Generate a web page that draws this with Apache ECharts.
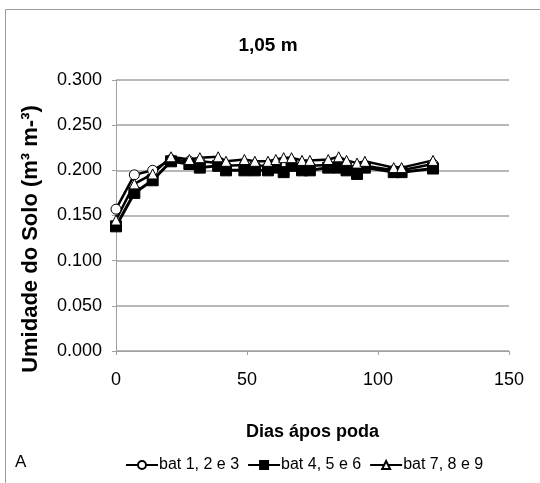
<!DOCTYPE html>
<html>
<head>
<meta charset="utf-8">
<script src="https://cdn.jsdelivr.net/npm/echarts@6/dist/echarts.min.js"></script>
<style>
html,body{margin:0;padding:0;background:#fff;}
#chart{width:540px;height:483px;}
</style>
</head>
<body>
<div id="chart"></div>
<script>
// Days after pruning for each sampling date
var dias = [0, 7, 14, 21, 28, 32, 39, 42, 49, 53, 58, 61, 64, 67, 71, 74, 81, 85, 88, 92, 95, 106, 109, 121];

// Soil moisture (m3 m-3) at 1,05 m depth
var bat123 = [0.157, 0.195, 0.200, 0.212, 0.210, 0.210, 0.208, 0.205, 0.206, 0.206, 0.204, 0.207, 0.206, 0.208, 0.205, 0.205, 0.206, 0.208, 0.206, 0.202, 0.205, 0.200, 0.200, 0.207];
var bat456 = [0.138, 0.175, 0.189, 0.210, 0.207, 0.203, 0.205, 0.200, 0.200, 0.200, 0.200, 0.203, 0.198, 0.205, 0.200, 0.200, 0.203, 0.203, 0.200, 0.196, 0.203, 0.198, 0.198, 0.202];
var bat789 = [0.145, 0.185, 0.196, 0.215, 0.212, 0.214, 0.215, 0.210, 0.212, 0.210, 0.210, 0.212, 0.214, 0.214, 0.211, 0.211, 0.212, 0.215, 0.211, 0.208, 0.210, 0.203, 0.203, 0.211];

var seriesNames = ['bat 1, 2 e 3', 'bat 4, 5 e 6', 'bat 7, 8 e 9'];
var titulo = '1,05 m';
var tituloX = 'Dias ápos poda';
var tituloY = 'Umidade do Solo (m³ m-³)';
var painel = 'A';

function pares(v) {
  return dias.map(function (d, i) { return [d, v[i]]; });
}

var sans = "'Liberation Sans', Arial, sans-serif";

var chart = echarts.init(document.getElementById('chart'), null, {renderer: 'canvas'});
chart.setOption({
  backgroundColor: '#fff',
  animation: false,
  title: {
    text: titulo,
    left: 263, top: 31,
    textAlign: 'center',
    textStyle: {fontFamily: sans, fontSize: 19, fontWeight: 'bold', color: '#000'}
  },
  graphic: [
    {type: 'rect', shape: {x: 5.5, y: 9.5, width: 600, height: 600},
     style: {fill: 'none', stroke: '#9a9a9a', lineWidth: 1}, silent: true},
    {type: 'text', left: 15, top: 454,
     style: {text: painel, font: '17px ' + sans, fill: '#000'}},
    {type: 'text', x: 31, y: 239, rotation: Math.PI / 2,
     style: {text: tituloY, font: 'bold 22px ' + sans, fill: '#000',
             textAlign: 'center', textVerticalAlign: 'middle'}}
  ],
  legend: {
    left: 120, top: 452,
    itemGap: 8,
    itemWidth: 32, itemHeight: 10,
    textStyle: {fontFamily: sans, fontSize: 16, color: '#000', padding: [0, 0, 0, -4]},
    data: seriesNames
  },
  grid: {left: 116, top: 80, right: 31, bottom: 132, containLabel: false},
  xAxis: {
    type: 'value', min: 0, max: 150, interval: 50,
    name: tituloX, nameLocation: 'middle', nameGap: 72,
    nameTextStyle: {fontFamily: sans, fontSize: 18, fontWeight: 'bold', color: '#000'},
    axisLine: {show: true, lineStyle: {color: '#a0a0a0', width: 1}},
    axisTick: {show: true, length: 4, lineStyle: {color: '#a0a0a0'}},
    axisLabel: {fontFamily: sans, fontSize: 18, color: '#000', margin: 20},
    splitLine: {show: false}
  },
  yAxis: {
    type: 'value', min: 0, max: 0.3, interval: 0.05,
    axisLine: {show: true, lineStyle: {color: '#a0a0a0', width: 1}},
    axisTick: {show: true, length: 4, lineStyle: {color: '#a0a0a0'}},
    axisLabel: {fontFamily: sans, fontSize: 18, color: '#000', margin: 14,
      formatter: function (v) { return v.toFixed(3); }},
    splitLine: {show: true, lineStyle: {color: '#a0a0a0', width: 1.5}}
  },
  series: [
    {name: seriesNames[0], type: 'line', data: pares(bat123),
     symbol: 'circle', symbolSize: 10, showAllSymbol: true,
     lineStyle: {color: '#000', width: 2.5},
     itemStyle: {color: '#fff', borderColor: '#000', borderWidth: 1}},
    {name: seriesNames[1], type: 'line', data: pares(bat456),
     symbol: 'rect', symbolSize: 11, showAllSymbol: true,
     lineStyle: {color: '#000', width: 3},
     itemStyle: {color: '#000', borderColor: '#000', borderWidth: 1}},
    {name: seriesNames[2], type: 'line', data: pares(bat789),
     symbol: 'triangle', symbolSize: 10, showAllSymbol: true,
     lineStyle: {color: '#000', width: 2.5},
     itemStyle: {color: '#fff', borderColor: '#000', borderWidth: 1}}
  ]
});
</script>
</body>
</html>
